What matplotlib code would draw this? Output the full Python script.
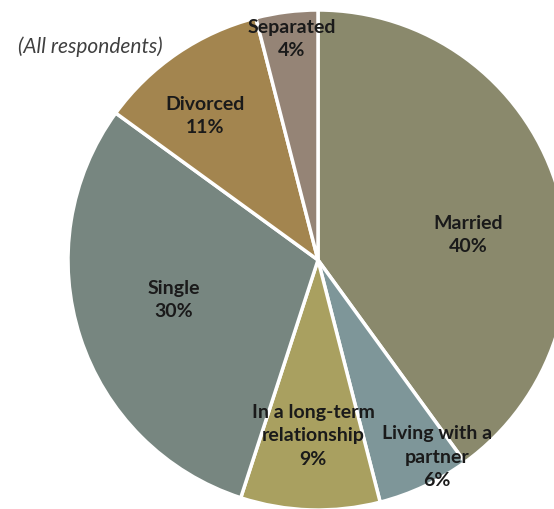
import matplotlib.pyplot as plt

labels = ['Married', 'Living with a\npartner', 'In a long-term\nrelationship', 'Single', 'Divorced', 'Separated']
values = [40, 6, 9, 30, 11, 4]
colors = ['#8A896C', '#7E9699', '#A9A060', '#778680', '#A3854F', '#958476']
# label positions in pixel space (x from left, y from top)
label_pos = [(468, 235), (437, 457), (313, 436), (174, 300), (205, 116), (292, 39)]

W, H = 554, 509
fig = plt.figure(figsize=(W / 100, H / 100), dpi=100)
ax = fig.add_axes([0, 0, 1, 1])

cx, cy, r = 318, H - 260, 250
ax.pie(values, colors=colors, startangle=90, counterclock=False,
       center=(cx, cy), radius=r, explode=[0.015, 0, 0, 0, 0, 0],
       wedgeprops=dict(edgecolor='white', linewidth=2.5), frame=True)
ax.set_xlim(0, W)
ax.set_ylim(0, H)
ax.set_aspect('equal')
ax.axis('off')

for lab, v, (x, y) in zip(labels, values, label_pos):
    ax.text(x, H - y, f'{lab}\n{v}%', ha='center', va='center',
            fontsize=14, fontweight='bold', family='Lato', color='#1a1a1a',
            linespacing=1.45)

ax.text(18, H - 47, '(All respondents)', ha='left', va='center',
        fontsize=15, style='italic', family='Lato', color='#404040')

fig.savefig('out.png', dpi=100)
